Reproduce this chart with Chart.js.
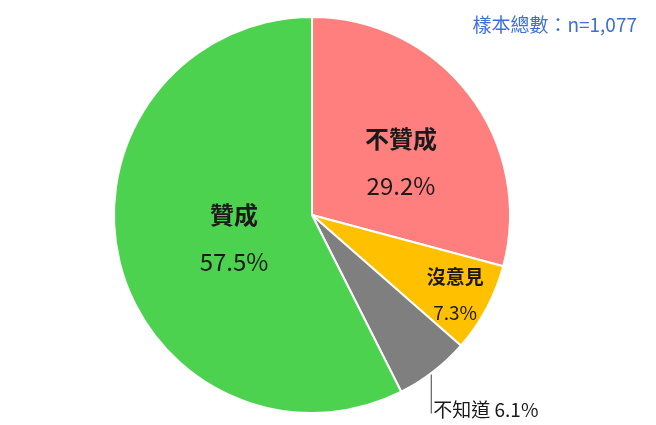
<!DOCTYPE html>
<html>
<head>
<meta charset="utf-8">
<script src="https://cdn.jsdelivr.net/npm/chart.js@4.4.1/dist/chart.umd.min.js"></script>
<style>
  html, body { margin: 0; padding: 0; background: #fff; }
  #wrap { position: relative; width: 656px; height: 425px; }
</style>
</head>
<body>
<div id="wrap"><canvas id="pie"></canvas></div>
<script>
var labels = ['不贊成', '沒意見', '不知道', '贊成'];
var values = [29.2, 7.3, 6.1, 57.5];
var colors = ['#FF7F7F', '#FFC000', '#7F7F7F', '#4DD24F'];
var sampleNote = '樣本總數：n=1,077';

var FONT = '"Noto Sans CJK TC", "Noto Sans", sans-serif';

// label placement per slice: radial factor, nudge, font sizes
var labelStyle = [
  { f: 0.56, dx: 1, dy: 15, size: 24, gap: 23.5 },
  { f: 0.82, dx: 0, dy: 3, size: 19, gap: 18 },
  { outside: true, size: 19 },
  { f: 0.42, dx: 3, dy: 4, size: 24, gap: 23.5 }
];

var sliceLabels = {
  id: 'sliceLabels',
  afterDatasetsDraw: function(chart) {
    var ctx = chart.ctx;
    var meta = chart.getDatasetMeta(0);
    ctx.save();
    ctx.fillStyle = '#1a1a1a';
    ctx.textAlign = 'center';
    ctx.textBaseline = 'middle';
    meta.data.forEach(function(arc, i) {
      var p = arc.getProps(['x', 'y', 'startAngle', 'endAngle', 'outerRadius'], true);
      var mid = (p.startAngle + p.endAngle) / 2;
      var st = labelStyle[i];
      var txt = values[i].toFixed(1) + '%';
      if (st.outside) {
        var ox = p.x + Math.cos(mid) * p.outerRadius;
        var oy = p.y + Math.sin(mid) * p.outerRadius;
        var lx = ox - 2;
        ctx.strokeStyle = '#404040';
        ctx.lineWidth = 1;
        ctx.beginPath();
        ctx.moveTo(lx, oy + 3);
        ctx.lineTo(lx, oy + 42);
        ctx.stroke();
        ctx.font = st.size + 'px ' + FONT;
        ctx.textAlign = 'left';
        ctx.fillText(labels[i] + ' ' + txt, lx + 2, oy + 38);
        ctx.textAlign = 'center';
        return;
      }
      var cx = p.x + Math.cos(mid) * p.outerRadius * st.f + st.dx;
      var cy = p.y + Math.sin(mid) * p.outerRadius * st.f + st.dy;
      ctx.font = 'bold ' + st.size + 'px ' + FONT;
      ctx.fillText(labels[i], cx, cy - st.gap);
      ctx.font = st.size + 'px ' + FONT;
      ctx.fillText(txt, cx, cy + st.gap);
    });
    ctx.font = '19px ' + FONT;
    ctx.fillStyle = '#3D6FD9';
    ctx.textAlign = 'right';
    ctx.fillText(sampleNote, 637, 25);
    ctx.restore();
  }
};

new Chart(document.getElementById('pie'), {
  type: 'pie',
  data: {
    labels: labels,
    datasets: [{
      data: values,
      backgroundColor: colors,
      borderColor: '#ffffff',
      borderWidth: 2
    }]
  },
  options: {
    responsive: true,
    maintainAspectRatio: false,
    animation: false,
    layout: { padding: { left: 113, right: 145, top: 16, bottom: 11 } },
    plugins: {
      legend: { display: false },
      tooltip: { enabled: false }
    }
  },
  plugins: [sliceLabels]
});
</script>
</body>
</html>
